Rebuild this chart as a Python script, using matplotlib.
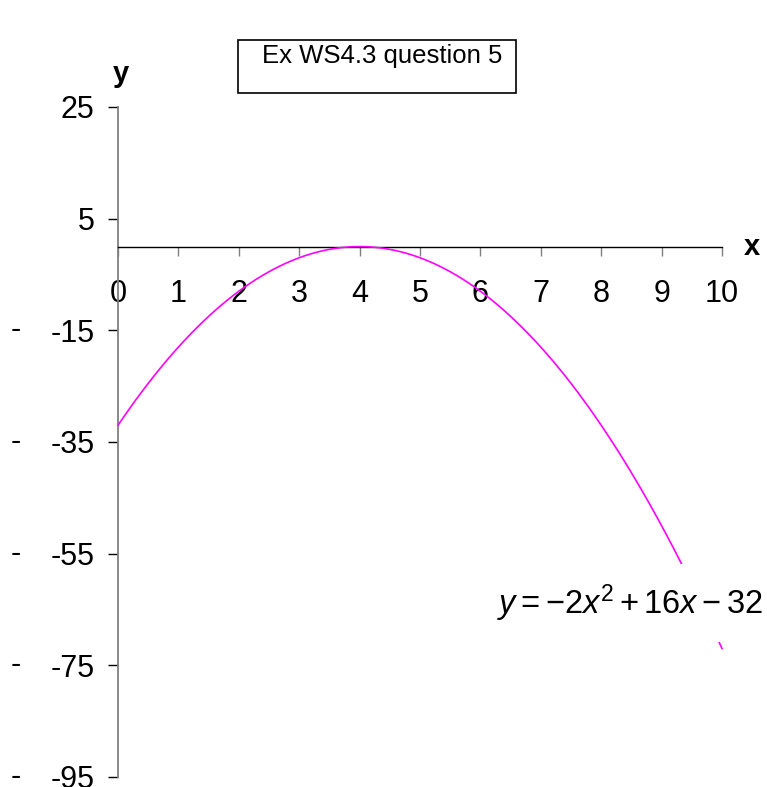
import numpy as np
from matplotlib import pyplot as plt
from matplotlib import transforms
from matplotlib.patches import Rectangle

# y = a*x^2 + b*x + c
coeffs = [-2, 16, -32]
x_start, x_end, x_step = 0, 10, 0.1

x_ticks = list(range(0, 11))
y_ticks = [25, 5, -15, -35, -55, -75, -95]
stub_marks = [-15, -35, -55, -75, -95]

title = 'Ex WS4.3 question 5'
equation = r'$y = -2x^2 + 16x - 32$'

plt.rcParams['font.family'] = ['Liberation Sans', 'DejaVu Sans']
plt.rcParams['mathtext.fontset'] = 'custom'
plt.rcParams['mathtext.rm'] = 'Liberation Sans'
plt.rcParams['mathtext.it'] = 'Liberation Sans:italic'
plt.rcParams['mathtext.bf'] = 'Liberation Sans:bold'

W, H = 767, 787
fig = plt.figure(figsize=(W / 100, H / 100), dpi=100)
ax = fig.add_axes([118 / W, (H - 777) / H, 604 / W, 670 / H])


def px(x, y):
    # pixel position (from top-left) -> figure fraction
    return x / W, 1 - y / H


xs = np.arange(x_start, x_end + x_step / 2, x_step)
ys = np.polyval(coeffs, xs)
ax.plot(xs, ys, color='#ff00ff', lw=1.2, zorder=3, clip_on=False)

ax.set_xlim(0, 10)
ax.set_ylim(-95, 25)
ax.set_xticks(x_ticks)
ax.set_yticks(y_ticks)
ax.set_yticklabels([str(v) for v in y_ticks])

for side in ['top', 'right']:
    ax.spines[side].set_visible(False)
ax.spines['bottom'].set_position(('data', 0))
ax.spines['bottom'].set_color('black')
ax.spines['bottom'].set_linewidth(1.0)
ax.spines['left'].set_color('#808080')
ax.spines['left'].set_linewidth(1.3)

ax.tick_params(axis='x', direction='out', length=6.5, width=1.0, color='#808080',
               pad=17, labelsize=22)
ax.tick_params(axis='y', direction='out', length=7, width=1.0, color='black',
               pad=10, labelsize=22)

# axis names
fig.text(*px(121, 74), 'y', ha='center', va='center', fontsize=21, fontweight='bold')
fig.text(*px(752, 247), 'x', ha='center', va='center', fontsize=21, fontweight='bold')

# title box
bx, by = px(238, 93)
fig.patches.append(Rectangle((bx, by), 278 / W, 53 / H, transform=fig.transFigure,
                             facecolor='white', edgecolor='black', lw=1.2))
fig.text(*px(262, 63), title, ha='left', va='baseline', fontsize=18.5)

# equation label with a white backing
fig.text(*px(497, 614), equation, ha='left', va='baseline', fontsize=23.5, zorder=5,
         bbox=dict(boxstyle='square,pad=0.55', facecolor='white', edgecolor='none'))

# leftover dash marks at the far left
trans = transforms.blended_transform_factory(ax.transAxes, ax.transData)
for v in stub_marks:
    ax.text(-0.17, v, '-', transform=trans, ha='center', va='center', fontsize=22)

plt.savefig('out.png', dpi=100)
